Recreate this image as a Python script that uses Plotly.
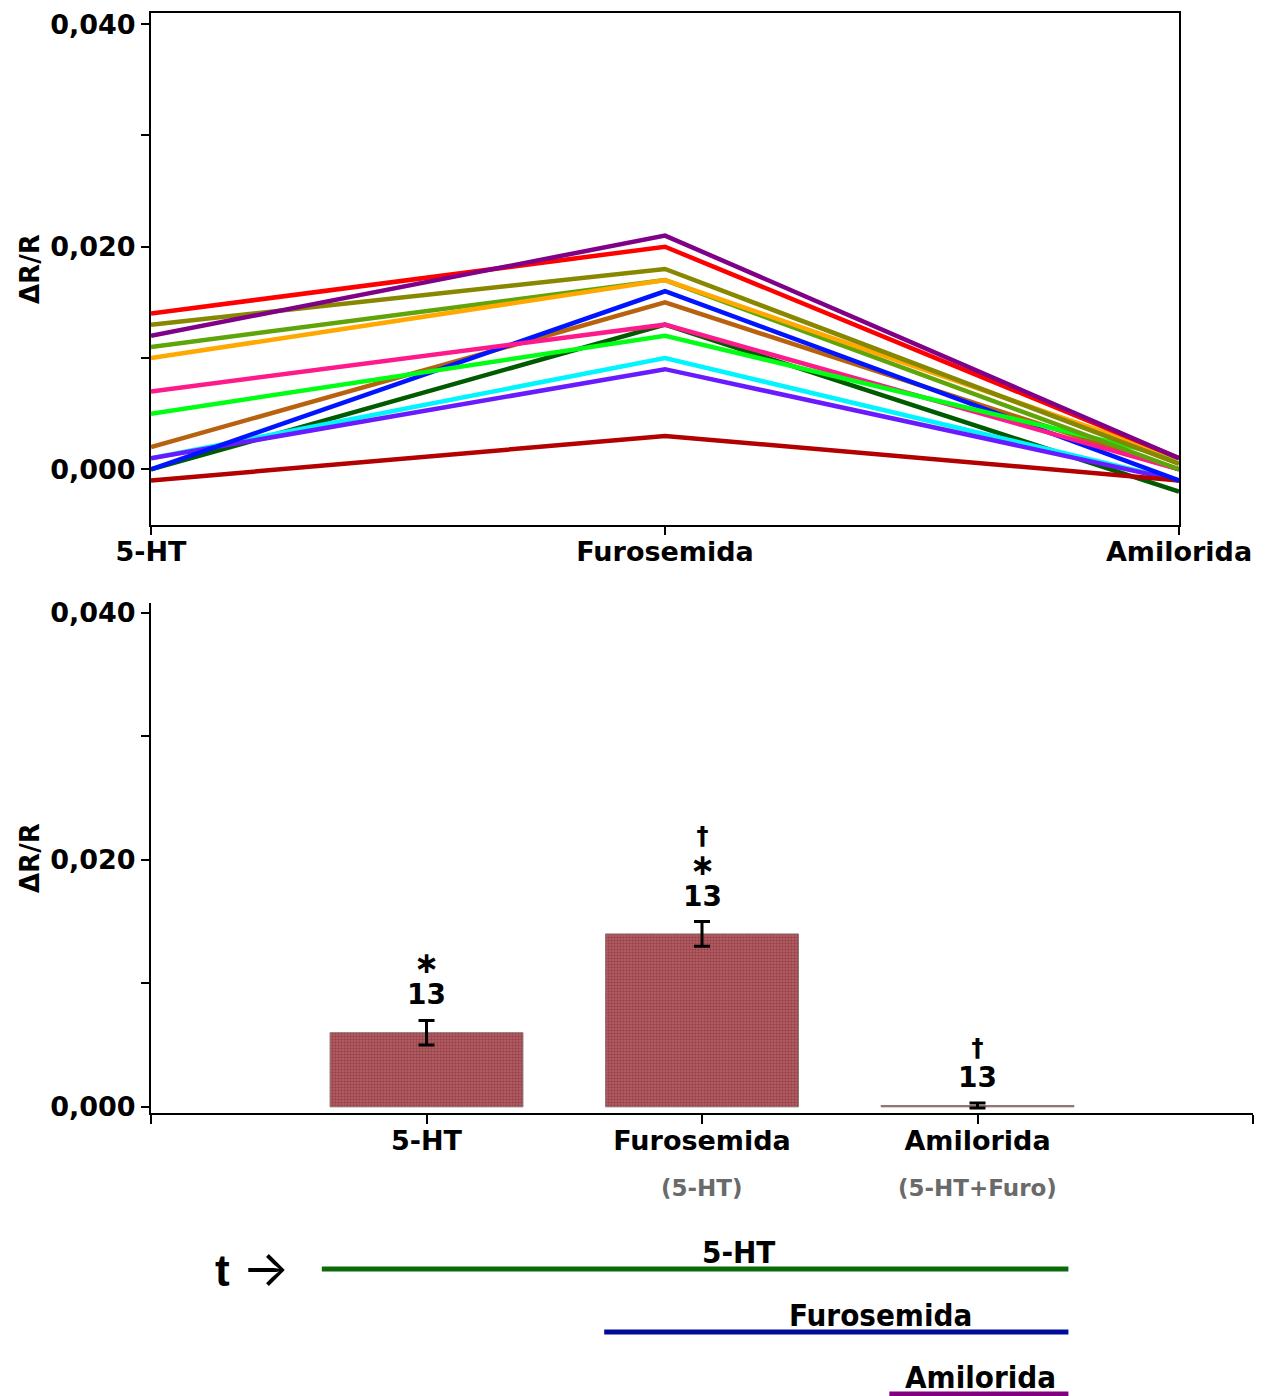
import plotly.graph_objects as go

# ---------------- data ----------------
treatments = ["5-HT", "Furosemida", "Amilorida"]

# individual experiments (ΔR/R after each addition)
exp_dark_green = [0.000, 0.013, -0.002]
exp_cyan = [0.001, 0.010, -0.001]
exp_violet = [0.001, 0.009, -0.001]
exp_dark_red = [-0.001, 0.003, -0.001]
exp_brown = [0.002, 0.015, 0.000]
exp_blue = [0.000, 0.016, -0.001]
exp_pink = [0.007, 0.013, 0.000]
exp_bright_green = [0.005, 0.012, 0.001]
exp_yellow_green = [0.011, 0.017, 0.000]
exp_orange = [0.010, 0.017, 0.001]
exp_olive = [0.013, 0.018, 0.0005]
exp_red = [0.014, 0.020, 0.001]
exp_purple = [0.012, 0.021, 0.001]

# summary (mean ± SEM)
mean_values = [0.006, 0.014, 0.0001]
sem_values = [0.001, 0.001, 0.0002]
n_labels = ["13", "13", "13"]
sig_marks = [["*"], ["*", "†"], ["†"]]
sub_labels = ["", "(5-HT)", "(5-HT+Furo)"]

# protocol timeline (in bar-axis units)
timeline_names = ["5-HT", "Furosemida", "Amilorida"]
timeline_start = [-0.38, 0.645, 1.68]
timeline_end = [2.33, 2.33, 2.33]
timeline_label_x = [1.134, 1.649, 2.011]
timeline_colors = ["#0b6b0b", "#000c99", "#800080"]

experiments = [
    (exp_dark_green, "#005a00"),
    (exp_cyan, "#00f5ff"),
    (exp_violet, "#6a1aff"),
    (exp_dark_red, "#b30000"),
    (exp_brown, "#b8620f"),
    (exp_blue, "#0015ff"),
    (exp_pink, "#ff1a8c"),
    (exp_bright_green, "#00ff14"),
    (exp_yellow_green, "#5fa50a"),
    (exp_orange, "#ffa800"),
    (exp_olive, "#878700"),
    (exp_red, "#ff0000"),
    (exp_purple, "#800088"),
]

W, H = 1265, 1396
FONT = "DejaVu Sans"
NARROW = "DejaVu Sans Condensed, Liberation Sans Narrow, sans-serif"
# the star is set with the math asterisk so it sits centred on its line
MARK_GLYPH = {"*": "<span style='font-size:30px'>\u2217</span>", "†": "†"}


def py(pix):
    """paper y from a pixel row measured from the top"""
    return 1 - pix / H


fig = go.Figure()

# ---------------- upper panel: individual experiments ----------------
for vals, col in experiments:
    fig.add_trace(go.Scatter(
        x=treatments, y=vals, mode="lines",
        line=dict(color=col, width=4.5),
        xaxis="x", yaxis="y", showlegend=False, hoverinfo="skip",
    ))

# ---------------- lower panel: mean bars ----------------
bar_x = list(range(len(treatments)))
fig.add_trace(go.Bar(
    x=bar_x, y=mean_values, width=0.7,
    marker=dict(
        color="#b8626a",
        line=dict(color="#8a7070", width=1),
        pattern=dict(shape=".", size=3, solidity=0.5, fgcolor="#8d3a40", fgopacity=0.8),
    ),
    error_y=dict(type="data", array=sem_values, visible=True,
                 color="black", thickness=3, width=8),
    xaxis="x2", yaxis="y2", showlegend=False, hoverinfo="skip",
))

annotations = []
for i, (m, s) in enumerate(zip(mean_values, sem_values)):
    # stacked label above the error bar: significance marks, then n
    lines = [MARK_GLYPH[mark] for mark in reversed(sig_marks[i])]
    lines.append(f"<span style='font-size:28px'>{n_labels[i]}</span>")
    annotations.append(dict(
        x=i, y=m + s, xref="x2", yref="y2", text="<br>".join(lines), showarrow=False,
        yanchor="bottom", yshift=7, align="center",
        font=dict(family=FONT, size=24, color="black", weight="bold"),
    ))
    if sub_labels[i]:
        annotations.append(dict(
            x=i, y=py(1188), xref="x2", yref="paper", text=sub_labels[i], showarrow=False,
            yanchor="middle", font=dict(family=FONT, size=23, color="#6a6a6a", weight="bold"),
        ))

# y-axis titles
for ymid in (269, 858):
    annotations.append(dict(
        x=30 / W, y=py(ymid), xref="paper", yref="paper", text="ΔR/R", showarrow=False,
        textangle=-90, xanchor="center", yanchor="middle",
        font=dict(family=FONT, size=26, color="black", weight="bold"),
    ))

# protocol timeline
shapes = []
for name, x0, x1, lx, col, row in zip(timeline_names, timeline_start, timeline_end,
                                      timeline_label_x, timeline_colors, (1269, 1332, 1394)):
    shapes.append(dict(type="line", xref="x2", yref="paper", x0=x0, x1=x1,
                       y0=py(row), y1=py(row), line=dict(color=col, width=5)))
    annotations.append(dict(
        x=lx, y=py(row - 17), xref="x2", yref="paper", text=name, showarrow=False,
        yanchor="middle", font=dict(family=NARROW, size=31, color="black", weight="bold"),
    ))

annotations.append(dict(
    x=213 / W, y=py(1268), xref="paper", yref="paper", xanchor="left", yanchor="middle",
    text="<b>t</b> <span style='font-size:50px;font-family:Inter'>→</span>",
    showarrow=False, font=dict(family="Liberation Sans, Arial", size=44, color="black"),
))

axis_font = dict(family=FONT, size=27, color="black", weight="bold")

fig.update_layout(
    width=W, height=H,
    margin=dict(l=0, r=0, t=0, b=0, autoexpand=False),
    paper_bgcolor="white", plot_bgcolor="white",
    separators=",.",
    bargap=0.3,
    xaxis=dict(
        domain=[151 / W, 1179 / W], anchor="y", automargin=False,
        type="category", range=[0, 2],
        showline=True, linecolor="black", linewidth=2, mirror=True,
        ticks="outside", ticklen=8, tickwidth=2, tickcolor="black",
        ticklabelstandoff=-6,
        showgrid=False, zeroline=False, tickfont=axis_font,
    ),
    yaxis=dict(
        domain=[py(525), py(13)], anchor="x", automargin=False,
        range=[-0.005, 0.041], tickformat=".3f", dtick=0.02, tick0=0,
        showline=True, linecolor="black", linewidth=2, mirror=True,
        ticks="outside", ticklen=8, tickwidth=2, tickcolor="black",
        minor=dict(dtick=0.01, ticks="outside", ticklen=8, tickwidth=1.5, tickcolor="black"),
        showgrid=False, zeroline=False, tickfont=axis_font,
    ),
    xaxis2=dict(
        domain=[151 / W, 1253 / W], anchor="y2", automargin=False,
        range=[-1, 3], tickmode="array",
        tickvals=[-1] + bar_x + [3], ticktext=[""] + treatments + [""],
        showline=True, linecolor="black", linewidth=2,
        ticks="outside", ticklen=9, tickwidth=2, tickcolor="black",
        ticklabelstandoff=-6,
        showgrid=False, zeroline=False, tickfont=axis_font,
    ),
    yaxis2=dict(
        domain=[py(1113), py(603)], anchor="x2", automargin=False,
        range=[-0.0005, 0.0408], tickformat=".3f", dtick=0.02, tick0=0,
        showline=True, linecolor="black", linewidth=2,
        ticks="outside", ticklen=8, tickwidth=2, tickcolor="black",
        minor=dict(dtick=0.01, ticks="outside", ticklen=8, tickwidth=1.5, tickcolor="black"),
        showgrid=False, zeroline=False, tickfont=axis_font,
    ),
    annotations=annotations,
    shapes=shapes,
)

fig.write_html("out.html")
